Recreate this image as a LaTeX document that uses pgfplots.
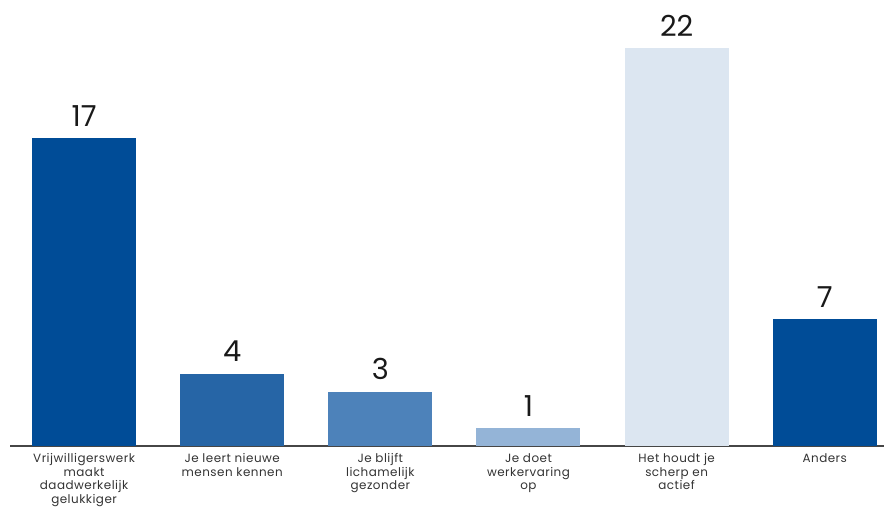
\documentclass[border=0pt]{standalone}
\usepackage{pgfplots}
\pgfplotsset{compat=1.18}
\usepackage{fontspec}
\setmainfont{Poppins}
\newfontfamily\labfont[LetterSpace=4]{Poppins}
\definecolor{c1}{RGB}{0,76,151}
\definecolor{c2}{RGB}{38,101,166}
\definecolor{c3}{RGB}{77,130,186}
\definecolor{c4}{RGB}{148,180,215}
\definecolor{c5}{RGB}{220,230,241}
\definecolor{ax}{RGB}{70,70,70}
\begin{document}
\begin{tikzpicture}
\begin{axis}[
  scale only axis,
  width=874bp, height=446bp,
  xmin=-0.5, xmax=5.4,
  ymin=0, ymax=24.65,
  axis x line=bottom,
  axis y line=none,
  axis line style={ax, line width=1.3bp, -},
  ybar, bar width=104bp, bar shift=0pt,
  xtick={0,1,2,3,4,5},
  xticklabels={{Vrijwilligerswerk\\maakt\\daadwerkelijk\\gelukkiger},{Je leert nieuwe\\mensen kennen},{Je blijft\\lichamelijk\\gezonder},{Je doet\\werkervaring\\op},{Het houdt je\\scherp en\\actief},{Anders}},
  xticklabel style={align=center, font=\labfont\fontsize{12}{13.6}\selectfont, text=black!80, inner sep=0pt, yshift=-7.5bp},
  major tick length=0pt,
  clip=false,
  nodes near coords,
  /pgf/number format/assume math mode=true,
  every node near coord/.append style={font=\fontsize{29}{31}\selectfont, text=black!90, anchor=south, inner sep=0pt, yshift=11.5bp},
]
\addplot[fill=c1, draw=none] coordinates {(0,17)};
\addplot[fill=c2, draw=none] coordinates {(1,4)};
\addplot[fill=c3, draw=none] coordinates {(2,3)};
\addplot[fill=c4, draw=none] coordinates {(3,1)};
\addplot[fill=c5, draw=none] coordinates {(4,22)};
\addplot[fill=c1, draw=none] coordinates {(5,7)};
\end{axis}
\pgfresetboundingbox
\path (current axis.south west) ++(-10bp,-62bp) rectangle (current axis.north east);
\end{tikzpicture}
\end{document}
